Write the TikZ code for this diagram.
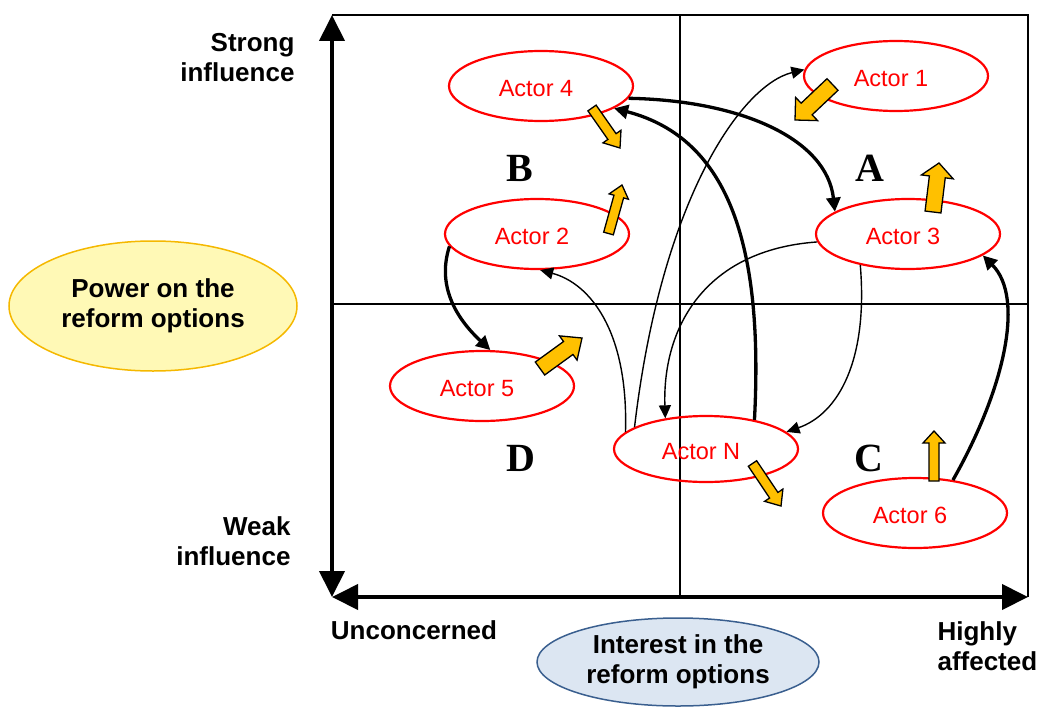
\documentclass[tikz,border=0pt]{standalone}
\usepackage{fontspec}
\setmainfont{Liberation Sans}
\newfontfamily\quadfont{Liberation Serif}
\usetikzlibrary{shapes.geometric,arrows.meta,calc}

\definecolor{actorred}{HTML}{FF0000}
\definecolor{shiftorange}{HTML}{FFC000}
\definecolor{powerfill}{HTML}{FFF9B6}
\definecolor{powerborder}{HTML}{F5B800}
\definecolor{interestfill}{HTML}{DCE6F2}
\definecolor{interestborder}{HTML}{3A5F8F}

\tikzset{
  actor/.style={ellipse, draw=actorred, line width=2.2pt, minimum width=184pt,
    minimum height=70pt, inner sep=0pt, text=actorred, font=\fontsize{23.5}{26}\selectfont,
    text height=21pt, text depth=0pt, execute at begin node={\kern-10pt}},
  axislabel/.style={font=\bfseries\fontsize{26}{30}\selectfont},
  quadlabel/.style={font=\quadfont\bfseries\fontsize{40}{44}\selectfont, inner sep=0pt},
  link/.style={line width=1.4pt, -{Triangle[length=13pt,width=12pt]}},
  strong link/.style={line width=3.3pt, -{Triangle[length=14pt,width=14pt]}},
  shiftarrow/.style={fill=shiftorange, draw=black, line width=1.3pt, line join=miter},
  gridline/.style={line width=2pt},
  axisline/.style={line width=4pt,
    {Triangle[length=26pt,width=25pt]}-{Triangle[length=26pt,width=25pt]}},
  topic/.style={ellipse, line width=1.5pt, inner sep=0pt, align=center, axislabel},
}

% block arrow: tail, tip, half shaft width, half head width, head length
\newcommand\shiftarr[5]{%
  \coordinate (sa-tail) at #1;
  \coordinate (sa-tip) at #2;
  \coordinate (sa-neck) at ($(sa-tip)!#5!(sa-tail)$);
  \filldraw[shiftarrow]
    ($(sa-tail)!#3!90:(sa-tip)$) -- ($(sa-neck)!#3!90:(sa-tip)$) --
    ($(sa-neck)!#4!90:(sa-tip)$) -- (sa-tip) --
    ($(sa-neck)!#4!-90:(sa-tip)$) -- ($(sa-neck)!#3!-90:(sa-tip)$) --
    ($(sa-tail)!#3!-90:(sa-tip)$) -- cycle;}

\begin{document}
\begin{tikzpicture}[x=1pt, y=-1pt]
\useasboundingbox (0,0) rectangle (1040,706);

% frame and quadrant lines
\coordinate (O) at (332,597);
\coordinate (top) at (332,15);
\coordinate (TR) at (1028,15);
\coordinate (right) at (1028,597);
\coordinate (midtop) at (680,15);
\coordinate (midbot) at (680,597);
\coordinate (midleft) at (332,304);
\coordinate (midright) at (1028,304);

\draw[gridline] (top) -- (TR) -- (right);
\draw[gridline] (midtop) -- (midbot);
\draw[gridline] (midleft) -- (midright);
\draw[axisline] (O) -- (top);
\draw[axisline] (O) -- (right);

% axis labels
\node[axislabel, align=right, anchor=east] (strong) at (298,58) {Strong\\influence};
\node[axislabel, align=right, anchor=east] (weak) at (294,541) {Weak\\influence};
\node[axislabel] (unconcerned) at (414,630) {Unconcerned};
\node[axislabel, align=left, anchor=west] (affected) at (934,646) {Highly\\affected};

\node[topic, draw=powerborder, fill=powerfill, minimum width=288pt, minimum height=130pt]
  (power) at (153,306) {Power on the\\reform options};
\node[topic, draw=interestborder, fill=interestfill, minimum width=282pt, minimum height=88pt]
  (interest) at (678,662) {Interest in the\\reform options};

% quadrant letters
\node[quadlabel] (qA) at (870,168) {A};
\node[quadlabel] (qB) at (520,168) {B};
\node[quadlabel] (qC) at (869,458) {C};
\node[quadlabel] (qD) at (521,458) {D};

% actors
\node[actor] (a4) at (541,86) {Actor 4};
\node[actor] (a1) at (896,76) {Actor 1};
\node[actor] (a3) at (908,234) {Actor 3};
\node[actor] (a2) at (537,234) {Actor 2};
\node[actor] (a5) at (482,386) {Actor 5};
\node[actor, minimum height=66pt] (aN) at (706,449) {Actor N};
\node[actor] (a6) at (915,513) {Actor 6};

% relations between actors
\draw[strong link] (a4.-8) .. controls +(112,2) and +(-8,-73) .. (a3.163);
\draw[strong link] (aN.31) .. controls +(9,-172) and +(116,30) .. (a4.-17);
\draw[link] (aN.163) .. controls +(27,-230) and +(-62,15) .. (a1.176);
\draw[link] (aN.168) .. controls +(3,-102) and +(49,13) .. (a2.-85);
\draw[link] (a3.185) .. controls +(-113,8) and +(-3,-90) .. (aN.143);
\draw[link] (a3.213) .. controls +(8,95) and +(52,-18) .. (aN.12);
\draw[strong link] (a6.41) .. controls +(50,-88) and +(43,43) .. (a3.-16);
\draw[strong link] (a2.188) .. controls +(-14,43) and +(-30,-28) .. (a5.77);

% expected shifts of position
\shiftarr{(592,108)}{(620,148)}{5pt}{11pt}{14pt}
\shiftarr{(832.5,84.5)}{(795,120)}{8pt}{16pt}{16pt}
\shiftarr{(933,212)}{(939,163)}{8pt}{16pt}{14pt}
\shiftarr{(608.5,233.5)}{(622,185)}{5pt}{10pt}{12pt}
\shiftarr{(540,368.5)}{(582,338)}{8pt}{15pt}{17pt}
\shiftarr{(752.5,463.5)}{(781,506)}{5pt}{11pt}{13pt}
\shiftarr{(934,481)}{(934,431)}{5pt}{11pt}{12pt}
\end{tikzpicture}
\end{document}
